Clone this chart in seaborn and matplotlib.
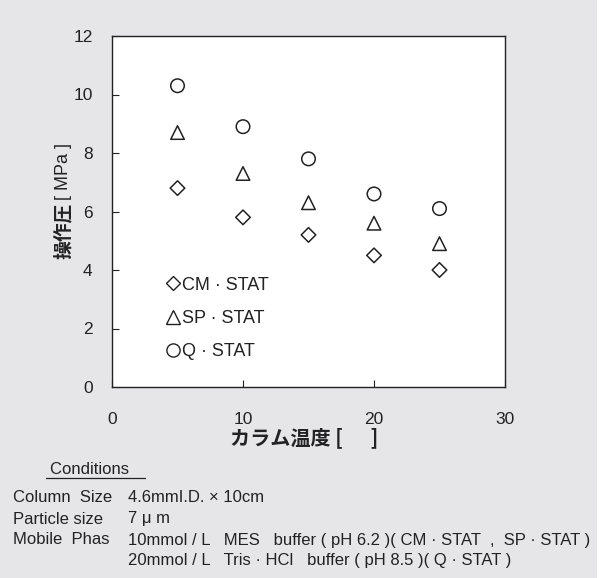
import matplotlib
matplotlib.use("Agg")
import matplotlib.pyplot as plt
import seaborn as sns
import pandas as pd
from matplotlib.lines import Line2D
from matplotlib.patches import Rectangle

temps = [5, 10, 15, 20, 25]
cm_stat = [6.8, 5.8, 5.2, 4.5, 4.0]
sp_stat = [8.7, 7.3, 6.3, 5.6, 4.9]
q_stat = [10.3, 8.9, 7.8, 6.6, 6.1]
series_names = ["CM \u00b7 STAT", "SP \u00b7 STAT", "Q \u00b7 STAT"]
xticks = [0, 10, 20, 30]
yticks = [0, 2, 4, 6, 8, 10, 12]

sns.set_theme(style="white")
plt.rcParams['font.family'] = ['Liberation Sans', 'Noto Sans CJK JP', 'DejaVu Sans']

df = pd.DataFrame({
    "temp": temps * 3,
    "pressure": cm_stat + sp_stat + q_stat,
    "series": [series_names[0]] * 5 + [series_names[1]] * 5 + [series_names[2]] * 5,
})

W, H = 601, 578
bg = "#e6e6e8"
c = "#222222"
fig = plt.figure(figsize=(W / 100, H / 100), dpi=100, facecolor="white")
fig.add_artist(Rectangle((0, 0), 597 / W, 1, transform=fig.transFigure,
                         facecolor=bg, edgecolor="none", zorder=-10))
ax = fig.add_axes([112 / W, 1 - 387 / H, 393 / W, 351 / H])
ax.set_facecolor("white")

markers = {series_names[0]: "D", series_names[1]: "^", series_names[2]: "o"}
sizes = {series_names[0]: 55, series_names[1]: 95, series_names[2]: 95}
for name in series_names:
    sub = df[df["series"] == name]
    sns.scatterplot(data=sub, x="temp", y="pressure", marker=markers[name],
                    s=sizes[name], facecolor="none", edgecolor=c,
                    linewidth=1.1, ax=ax, legend=False)

ax.set_xlim(0, 30)
ax.set_ylim(0, 12)
ax.set_xticks(xticks)
ax.set_yticks(yticks)
ax.tick_params(axis="both", direction="in", length=5, width=0.8, color=c,
               labelsize=12.5, labelcolor=c, top=False, right=False,
               left=True, bottom=True)
ax.tick_params(axis="x", pad=18)
ax.tick_params(axis="y", pad=14)
for sp in ax.spines.values():
    sp.set_color(c)
    sp.set_linewidth(1.0)

ax.set_xlabel("")
ax.set_ylabel("")
fig.text(230 / W, 1 - 438 / H, "カラム温度 [      ]", fontsize=14.5, fontweight="bold",
         family=["Noto Sans CJK JP", "DejaVu Sans"], ha="left", va="center", color=c)
fig.text(0.106, 0.60, "操作圧", rotation=90, fontsize=13.5, fontweight="bold",
         family=["Noto Sans CJK JP"], ha="center", va="center", color=c)
fig.text(0.106, 0.703, "[ MPa ]", rotation=90, fontsize=13,
         family=["Liberation Sans"], ha="center", va="center", color=c)

handles = [Line2D([], [], marker=markers[n], linestyle="none", markerfacecolor="none",
                  markeredgecolor=c, markersize=(7 if n == series_names[0] else 9.5),
                  markeredgewidth=1.0) for n in series_names]
leg = ax.legend(handles, series_names, loc="lower left", bbox_to_anchor=(0.09, 0.03),
                frameon=False, fontsize=13, handletextpad=0.0, handlelength=1.0,
                labelspacing=0.9)
for t in leg.get_texts():
    t.set_color(c)

fs = 12
fam = ['Liberation Sans', 'Noto Sans CJK JP']


def seg(x, y, s):
    fig.text(x / W, 1 - y / H, s, fontsize=fs, color=c, family=fam,
             ha="left", va="center")


seg(50, 470, "Conditions ")
fig.add_artist(Line2D([46 / W, 145 / W], [1 - 478 / H, 1 - 478 / H],
                      transform=fig.transFigure, color=c, linewidth=0.9))

y1, y2, y3, y4 = 498, 519, 540, 560
seg(13, y1, "Column  Size")
seg(128, y1, "4.6mmI.D. \u00d7 10cm")
seg(13, y2, "Particle size")
seg(128, y2, "7 \u03bc m")
seg(13, y3, "Mobile  Phas")
seg(128, y3, "10mmol / L   MES   buffer ( pH 6.2 )( CM \u00b7 STAT  ,  SP \u00b7 STAT )")
seg(128, y4, "20mmol / L   Tris \u00b7 HCl   buffer ( pH 8.5 )( Q \u00b7 STAT )")

fig.savefig("out.png", dpi=100, facecolor="white")
